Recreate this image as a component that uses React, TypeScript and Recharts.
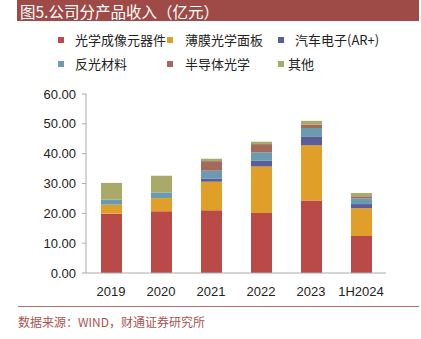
import React from 'react';
import { BarChart, Bar, XAxis, YAxis } from 'recharts';

const years = ['2019', '2020', '2021', '2022', '2023', '1H2024'];
const optics = [19.9, 20.7, 21.0, 20.1, 24.3, 12.4];
const film = [3.0, 4.4, 9.6, 15.6, 18.5, 9.3];
const auto = [0, 0, 1.1, 1.9, 3.0, 1.4];
const reflect = [1.7, 1.9, 2.6, 2.8, 2.8, 1.9];
const semi = [0, 0, 3.2, 2.8, 1.1, 0.7];
const other = [5.6, 5.6, 0.8, 0.8, 1.3, 1.1];
const yTicks = [0, 10, 20, 30, 40, 50, 60];

const series = [
  { key: 'optics', name: '光学成像元器件', color: '#B94A48', values: optics },
  { key: 'film', name: '薄膜光学面板', color: '#DF9F28', values: film },
  { key: 'auto', name: '汽车电子(AR+)', color: '#5B5D99', values: auto },
  { key: 'reflect', name: '反光材料', color: '#6A9BB0', values: reflect },
  { key: 'semi', name: '半导体光学', color: '#A2695C', values: semi },
  { key: 'other', name: '其他', color: '#A9A96A', values: other },
];

const data = years.map((y, i) => {
  const row: Record<string, string | number> = { year: y };
  series.forEach(s => { row[s.key] = s.values[i]; });
  return row;
});

const cjk = '"Noto Sans CJK SC", "Liberation Sans", sans-serif';

// legend positions, two rows of three
const legendPos = [
  { x: 58, y: 37, tx: 75 },
  { x: 167, y: 37, tx: 185 },
  { x: 278, y: 37, tx: 295 },
  { x: 58, y: 61, tx: 75 },
  { x: 167, y: 61, tx: 185 },
  { x: 278, y: 61, tx: 288 },
];

export default function App() {
  return (
    <div style={{ position: 'absolute', left: 0, top: 0, width: 421, height: 339, background: '#fff', fontFamily: cjk }}>
      <div style={{ position: 'absolute', left: 17, top: 0, width: 402, height: 21, background: '#9E4B48' }} />
      <div style={{ position: 'absolute', left: 20, top: 1, height: 20, lineHeight: '20px', color: '#fff', fontSize: 15.5, whiteSpace: 'nowrap' }}>
        图5.公司分产品收入（亿元）
      </div>
      {series.map((s, i) => (
        <React.Fragment key={s.key}>
          <div style={{ position: 'absolute', left: legendPos[i].x, top: legendPos[i].y, width: 6, height: 6, background: s.color }} />
          <div style={{ position: 'absolute', left: legendPos[i].tx, top: legendPos[i].y - 7, lineHeight: '20px', fontSize: 13, color: '#222', whiteSpace: 'nowrap' }}>
            {s.name}
          </div>
        </React.Fragment>
      ))}
      <div style={{ position: 'absolute', left: 0, top: 0 }}>
        <BarChart width={421} height={339} data={data} margin={{ top: 94, right: 35, left: 0, bottom: 0 }}>
          <XAxis
            dataKey="year"
            height={66}
            tickLine={false}
            axisLine={{ stroke: '#aaa' }}
            tickMargin={8}
            tick={{ fill: '#222', fontSize: 13, fontFamily: '"Liberation Sans", Arial, sans-serif' }}
          />
          <YAxis
            width={86}
            domain={[0, 60]}
            ticks={yTicks}
            tickFormatter={(v: number) => v.toFixed(2)}
            axisLine={{ stroke: '#aaa' }}
            tickLine={{ stroke: '#aaa' }}
            tickSize={4}
            tickMargin={6}
            tick={{ fill: '#222', fontSize: 13, fontFamily: '"Liberation Sans", Arial, sans-serif' }}
          />
          {series.map(s => (
            <Bar key={s.key} dataKey={s.key} stackId="a" fill={s.color} barSize={21} isAnimationActive={false} />
          ))}
        </BarChart>
      </div>
      <div style={{ position: 'absolute', left: 18, top: 306, width: 401, height: 1, background: '#B2716E' }} />
      <div style={{ position: 'absolute', left: 18, top: 313, fontSize: 12, lineHeight: '18px', color: '#A8544F' }}>
        数据来源：WIND，财通证券研究所
      </div>
    </div>
  );
}
